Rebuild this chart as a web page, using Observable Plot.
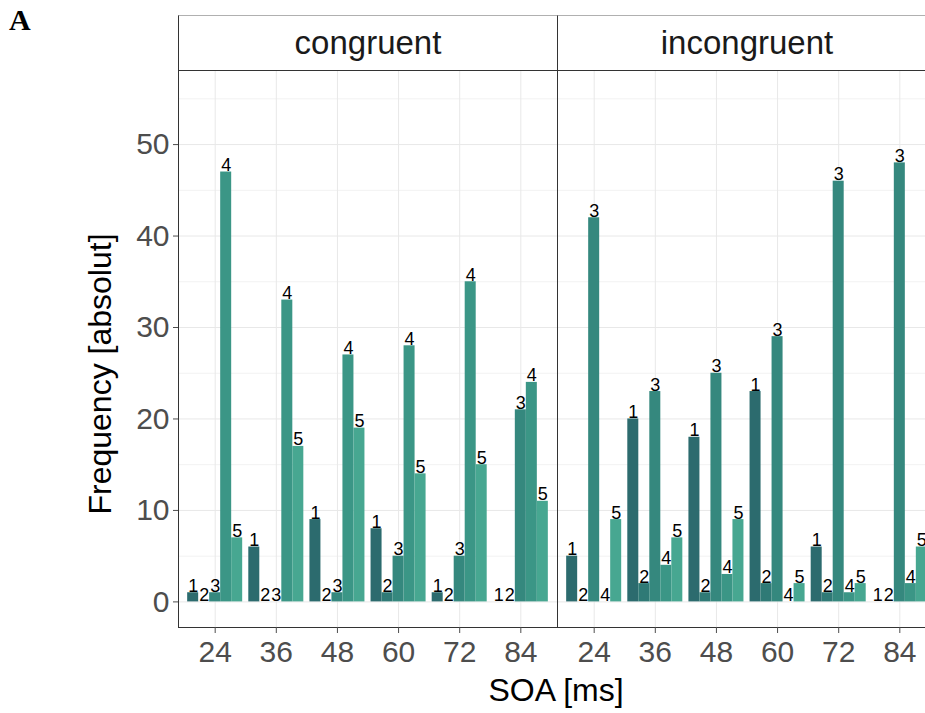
<!DOCTYPE html>
<html>
<head>
<meta charset="utf-8">
<script src="https://cdn.jsdelivr.net/npm/d3@7"></script>
<script src="https://cdn.jsdelivr.net/npm/@observablehq/plot@0.6"></script>
<style>
  html, body { margin: 0; padding: 0; background: #fff; overflow: hidden; }
  #wrap { position: relative; width: 925px; height: 713px; overflow: hidden; font-family: "Liberation Sans", Arial, sans-serif; }
  #chart { position: absolute; left: 0; top: 0; width: 936px; }
  #chart svg { max-width: none !important; width: 936px; height: 713px; }
  .strip { position: absolute; top: 15px; height: 54px; border-top: 1px solid #b0b0b0; border-bottom: 1px solid #333; border-left: 1px solid #333;
           display: flex; align-items: center; justify-content: center; font-size: 33px; color: #1a1a1a; background: #fff; }
  .panelA { position: absolute; left: 9px; top: 5px; font-family: "Liberation Serif", "Times New Roman", serif; font-weight: bold; font-size: 30px; line-height: 30px; }
  .ytitle { position: absolute; left: 100px; top: 374px; transform: translate(-50%, -50%) rotate(-90deg); white-space: nowrap; font-size: 32px; color: #000; }
  .xtitle { position: absolute; left: 556px; top: 690px; transform: translate(-50%, -50%); white-space: nowrap; font-size: 32px; color: #000; }
</style>
</head>
<body>
<div id="wrap">
  <div id="chart"></div>
  <div class="panelA">A</div>
  <div class="strip" id="s0" style="left:178px;width:378px;"></div>
  <div class="strip" id="s1" style="left:557px;width:378px;"></div>
  <div class="ytitle">Frequency [absolut]</div>
  <div class="xtitle">SOA [ms]</div>
</div>
<script>
// ---- data ----
const conditions = ["congruent", "incongruent"];
const soas = [24, 36, 48, 60, 72, 84];
const responses = [1, 2, 3, 4, 5];
// counts per SOA (rows) and response 1..5 (columns)
const congruentCounts = [
  [1, 0, 1, 47, 7],
  [6, 0, 0, 33, 17],
  [9, 0, 1, 27, 19],
  [8, 1, 5, 28, 14],
  [1, 0, 5, 35, 15],
  [0, 0, 21, 24, 11]
];
const incongruentCounts = [
  [5, 0, 42, 0, 9],
  [20, 2, 23, 4, 7],
  [18, 1, 25, 3, 9],
  [23, 2, 29, 0, 2],
  [6, 1, 46, 1, 2],
  [0, 0, 48, 2, 6]
];
const yMajorTicks = [0, 10, 20, 30, 40, 50];
const yMinorTicks = [5, 15, 25, 35, 45, 55];
const responseColors = ["#2c6b6e", "#2f7a76", "#35887e", "#3b9686", "#47a791"];

// ---- build table ----
const countsByCondition = {congruent: congruentCounts, incongruent: incongruentCounts};
const rows = [];
for (const c of conditions) {
  soas.forEach((s, si) => responses.forEach((r, ri) => {
    rows.push({condition: c, soa: s, response: r, count: countsByCondition[c][si][ri]});
  }));
}

document.getElementById("s0").textContent = conditions[0];
document.getElementById("s1").textContent = conditions[1];

const step = soas[1] - soas[0];
const dodgeW = step * 0.9 / responses.length;
const mid = (responses.length + 1) / 2;
const xMin = soas[0] - 0.6 * step, xMax = soas[soas.length - 1] + 0.6 * step;
const yMin = -2.8, yMax = 58.1;

const chart = Plot.plot({
  width: 936,
  height: 713,
  marginLeft: 178,
  marginRight: 0,
  marginTop: 70,
  marginBottom: 86,
  style: {fontFamily: "Liberation Sans, Arial, sans-serif", background: "transparent", overflow: "visible", maxWidth: "none"},
  fx: {domain: conditions, padding: 0, axis: null},
  x: {domain: [xMin, xMax], axis: null},
  y: {domain: [yMin, yMax], axis: null},
  color: {type: "ordinal", domain: responses, range: responseColors},
  marks: [
    Plot.ruleY(yMinorTicks, {stroke: "#f2f2f2", strokeWidth: 1}),
    Plot.ruleY(yMajorTicks, {stroke: "#e8e8e8", strokeWidth: 1}),
    Plot.ruleX(soas, {stroke: "#e8e8e8", strokeWidth: 1}),
    Plot.rectY(rows.filter(d => d.count > 0), {
      fx: "condition",
      x1: d => d.soa + (d.response - mid - 0.5) * dodgeW,
      x2: d => d.soa + (d.response - mid + 0.5) * dodgeW,
      y1: 0,
      y2: "count",
      fill: "response"
    }),
    Plot.text(rows, {
      fx: "condition",
      x: d => d.soa + (d.response - mid) * dodgeW,
      y: "count",
      text: d => String(d.response),
      lineAnchor: "bottom",
      dy: -1,
      fontSize: 18,
      fill: "#000"
    }),
    Plot.ruleX([xMin], {stroke: "#333", strokeWidth: 1}),
    Plot.ruleY([yMin], {stroke: "#333", strokeWidth: 1}),
    Plot.axisY({ticks: yMajorTicks, tickSize: 5, tickPadding: 4, fontSize: 30, color: "#4d4d4d", label: null}),
    Plot.axisX({ticks: soas, tickSize: 6, tickPadding: 7, fontSize: 30, color: "#4d4d4d", label: null})
  ]
});
document.getElementById("chart").appendChild(chart);
</script>
</body>
</html>
